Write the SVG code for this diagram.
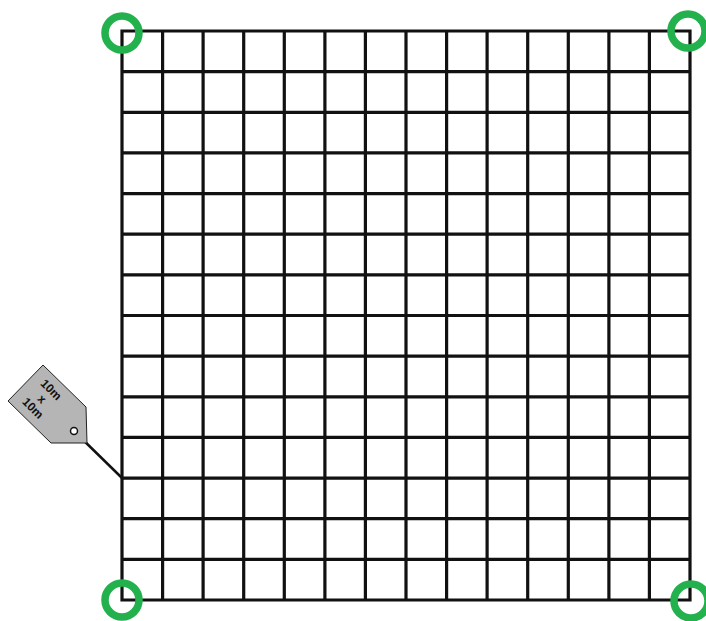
<svg xmlns="http://www.w3.org/2000/svg" width="706" height="621" viewBox="0 0 706 621">
<style>
.grid{stroke:#111;stroke-width:3.2;fill:none;stroke-linecap:square}
.ring{fill:none;stroke:#22b14c;stroke-width:7.5}
.tag{fill:#b5b5b5;stroke:#222;stroke-width:1}
.lbl{font-family:"Liberation Sans",Arial,sans-serif;font-weight:bold;font-size:12px;fill:#111;text-anchor:middle}
</style>
<rect width="706" height="621" fill="#fff"/>
<g id="grid">
<path class="grid" d="M122,31V600M162.6,31V600M203.1,31V600M243.7,31V600M284.3,31V600M324.9,31V600M365.4,31V600M406,31V600M446.6,31V600M487.1,31V600M527.7,31V600M568.3,31V600M608.9,31V600M649.4,31V600M690,31V600
M122,31H690M122,71.6H690M122,112.3H690M122,152.9H690M122,193.6H690M122,234.2H690M122,274.9H690M122,315.5H690M122,356.1H690M122,396.8H690M122,437.4H690M122,478.1H690M122,518.7H690M122,559.4H690M122,600H690"/>
</g>
<g id="connectors">
<line x1="74" y1="431" x2="122" y2="478" stroke="#111" stroke-width="2.5"/>
</g>
<g id="tag">
<polygon class="tag" points="43,365 86,407 87,443 51,443 8,401"/>
<circle cx="74" cy="431" r="3.5" fill="#fff" stroke="#111" stroke-width="1.5"/>
<g transform="translate(42,399) rotate(45)">
<text class="lbl" x="0" y="-9">10m</text>
<text class="lbl" x="0" y="4">x</text>
<text class="lbl" x="0" y="17">10m</text>
</g>
</g>
<g id="corner-tl"><circle class="ring" cx="122" cy="33" r="17"/></g>
<g id="corner-tr"><circle class="ring" cx="688" cy="31" r="17"/></g>
<g id="corner-bl"><circle class="ring" cx="122" cy="600" r="17"/></g>
<g id="corner-br"><circle class="ring" cx="691" cy="601" r="17"/></g>
</svg>
